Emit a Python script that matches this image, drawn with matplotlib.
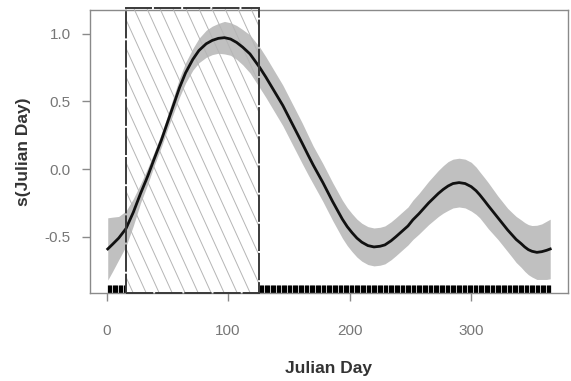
import numpy as np
import matplotlib.pyplot as plt
from matplotlib.patches import Rectangle
from matplotlib.collections import LineCollection

# smooth term
days = [1, 5, 10, 16, 22, 28, 34, 39, 45, 50, 55, 60, 65, 71, 76, 82, 87, 92,
        97, 102, 107, 112, 118, 122, 126, 131, 135, 140, 145, 149, 153, 157,
        161, 166, 170, 174, 178, 182, 186, 190, 194, 198, 202, 206, 210, 215,
        220, 225, 229, 234, 238, 243, 248, 252, 257, 261, 265, 269, 273, 277,
        281, 285, 290, 295, 300, 304, 307, 311, 314, 318, 322, 326, 330, 334,
        337, 341, 344, 347, 350, 354, 358, 362, 365]
fit = [-0.59, -0.555, -0.51, -0.44, -0.32, -0.18, -0.05, 0.07, 0.21, 0.34,
       0.47, 0.60, 0.71, 0.81, 0.875, 0.925, 0.95, 0.965, 0.97, 0.96, 0.935,
       0.90, 0.85, 0.80, 0.75, 0.68, 0.62, 0.545, 0.47, 0.40, 0.33, 0.26,
       0.19, 0.10, 0.03, -0.035, -0.10, -0.17, -0.24, -0.305, -0.37, -0.425,
       -0.47, -0.51, -0.54, -0.565, -0.575, -0.57, -0.56, -0.53, -0.50, -0.46,
       -0.42, -0.375, -0.33, -0.29, -0.25, -0.215, -0.18, -0.15, -0.125,
       -0.107, -0.10, -0.107, -0.13, -0.16, -0.19, -0.235, -0.27, -0.315,
       -0.36, -0.405, -0.45, -0.49, -0.52, -0.55, -0.575, -0.595, -0.607,
       -0.615, -0.61, -0.60, -0.59]
# half width of the confidence band
half = [0.23, 0.20, 0.16, 0.13, 0.10, 0.07, 0.06, 0.05, 0.05, 0.05, 0.06,
        0.07, 0.075, 0.08, 0.09, 0.10, 0.105, 0.11, 0.12, 0.12, 0.125, 0.13,
        0.14, 0.145, 0.15, 0.15, 0.15, 0.15, 0.15, 0.15, 0.15, 0.15, 0.15,
        0.145, 0.14, 0.14, 0.14, 0.14, 0.14, 0.14, 0.14, 0.14, 0.14, 0.14,
        0.14, 0.14, 0.14, 0.14, 0.14, 0.14, 0.14, 0.14, 0.14, 0.145, 0.15,
        0.155, 0.16, 0.165, 0.17, 0.175, 0.18, 0.18, 0.18, 0.18, 0.18, 0.175,
        0.17, 0.17, 0.17, 0.165, 0.16, 0.16, 0.16, 0.165, 0.17, 0.175, 0.18,
        0.185, 0.19, 0.20, 0.205, 0.215, 0.22]
rug_days = np.arange(1, 366)
window = (16.4, 125.5)  # highlighted period

fit = np.array(fit)
half = np.array(half)

fig = plt.figure(figsize=(5.71, 3.81), dpi=100)
ax = fig.add_axes([0.1576, 0.231, 0.8371, 0.743])
ax.set_xlim(-13.6, 379.6)
ax.set_ylim(-0.915, 1.175)

# rug along the bottom
ax.vlines(rug_days, -0.915, -0.855, color='black', lw=0.9, zorder=1)

# highlighted window: white fill with hatch lines
rect = Rectangle((window[0], -0.915), window[1] - window[0], 2.105,
                 facecolor='white', edgecolor='none', zorder=2)
ax.add_patch(rect)

ax.fill_between(days, fit - half, fit + half, color='#c0c0c0', lw=0, zorder=3)

# steep "\" hatch lines, drawn in axes coords and clipped to the window
step = 13 / 478
run = 283 / 2.2 / 478
segs = [[(c, 1.02), (c + run * 1.02, 0)] for c in np.arange(-1, 1.5, step)]
hatch = LineCollection(segs, colors='#b5b5b5', linewidths=0.7,
                       transform=ax.transAxes, zorder=4)
ax.add_collection(hatch)
hatch.set_clip_path(rect)

ax.plot(days, fit, color='#111111', lw=2.0, zorder=5)

border = Rectangle((window[0], -0.915), window[1] - window[0], 2.105,
                   facecolor='none', edgecolor='#3a3a3a', lw=1.4,
                   linestyle=(0, (14, 1)), zorder=6, clip_on=False)
ax.add_patch(border)

for s in ax.spines.values():
    s.set_color('#8a8a8a')
    s.set_linewidth(1.0)

ax.set_xticks([0, 100, 200, 300])
ax.set_yticks([-0.5, 0.0, 0.5, 1.0])
ax.set_yticklabels(['-0.5', '0.0', '0.5', '1.0'])
ax.tick_params(direction='out', length=6, width=1, color='#8a8a8a',
               labelcolor='#777777', labelsize=11, pad=8)
ax.tick_params(axis='x', pad=16)
ax.set_xlabel('Julian Day', fontsize=12.5, fontweight='bold', color='#333333',
              labelpad=17, family='Liberation Sans')
ax.set_ylabel('s(Julian Day)', fontsize=12.5, fontweight='bold', color='#333333',
              labelpad=10, family='Liberation Sans')
for lab in ax.get_xticklabels() + ax.get_yticklabels():
    lab.set_family('Liberation Sans')

fig.savefig('out.png', dpi=100)
